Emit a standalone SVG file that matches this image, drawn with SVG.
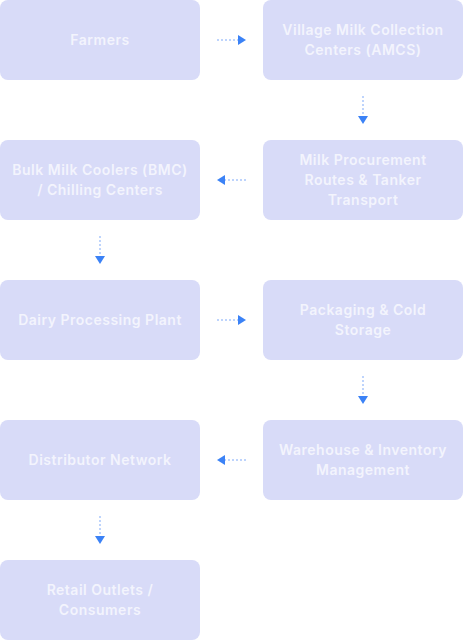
<svg xmlns="http://www.w3.org/2000/svg" width="463" height="640" viewBox="0 0 463 640">
<style>
.box{fill:#d8dbf8;}
.t{font-family:Inter,"Liberation Sans",sans-serif;font-size:14px;font-weight:600;letter-spacing:0.5px;fill:#f3f4fd;text-anchor:middle;}
.ln{stroke:#a9c6fb;stroke-width:1.5;stroke-dasharray:2 2;fill:none;}
.hd{fill:#3b82f6;}
</style>
<rect width="463" height="640" fill="#ffffff"/>
<g id="connectors">
<line class="ln" x1="217" y1="40" x2="238" y2="40"/><path class="hd" d="M238,35 L246,40 L238,45 Z"/>
<line class="ln" x1="363" y1="96" x2="363" y2="116"/><path class="hd" d="M358,116 L363,124 L368,116 Z"/>
<line class="ln" x1="246" y1="180" x2="225" y2="180"/><path class="hd" d="M225,175 L217,180 L225,185 Z"/>
<line class="ln" x1="100" y1="236" x2="100" y2="256"/><path class="hd" d="M95,256 L100,264 L105,256 Z"/>
<line class="ln" x1="217" y1="320" x2="238" y2="320"/><path class="hd" d="M238,315 L246,320 L238,325 Z"/>
<line class="ln" x1="363" y1="376" x2="363" y2="396"/><path class="hd" d="M358,396 L363,404 L368,396 Z"/>
<line class="ln" x1="246" y1="460" x2="225" y2="460"/><path class="hd" d="M225,455 L217,460 L225,465 Z"/>
<line class="ln" x1="100" y1="516" x2="100" y2="536"/><path class="hd" d="M95,536 L100,544 L105,536 Z"/>
</g>
<g id="farmers"><rect class="box" x="0" y="0" width="200" height="80" rx="8"/><text class="t" x="100" y="45">Farmers</text></g>
<g id="amcs"><rect class="box" x="263" y="0" width="200" height="80" rx="8"/><text class="t" x="363" y="35">Village Milk Collection</text><text class="t" x="363" y="55">Centers (AMCS)</text></g>
<g id="procurement"><rect class="box" x="263" y="140" width="200" height="80" rx="8"/><text class="t" x="363" y="165">Milk Procurement</text><text class="t" x="363" y="185">Routes &amp; Tanker</text><text class="t" x="363" y="205">Transport</text></g>
<g id="bmc"><rect class="box" x="0" y="140" width="200" height="80" rx="8"/><text class="t" x="100" y="175">Bulk Milk Coolers (BMC)</text><text class="t" x="100" y="195">/ Chilling Centers</text></g>
<g id="plant"><rect class="box" x="0" y="280" width="200" height="80" rx="8"/><text class="t" x="100" y="325">Dairy Processing Plant</text></g>
<g id="packaging"><rect class="box" x="263" y="280" width="200" height="80" rx="8"/><text class="t" x="363" y="315">Packaging &amp; Cold</text><text class="t" x="363" y="335">Storage</text></g>
<g id="warehouse"><rect class="box" x="263" y="420" width="200" height="80" rx="8"/><text class="t" x="363" y="455">Warehouse &amp; Inventory</text><text class="t" x="363" y="475">Management</text></g>
<g id="distributor"><rect class="box" x="0" y="420" width="200" height="80" rx="8"/><text class="t" x="100" y="465">Distributor Network</text></g>
<g id="retail"><rect class="box" x="0" y="560" width="200" height="80" rx="8"/><text class="t" x="100" y="595">Retail Outlets /</text><text class="t" x="100" y="615">Consumers</text></g>
</svg>
